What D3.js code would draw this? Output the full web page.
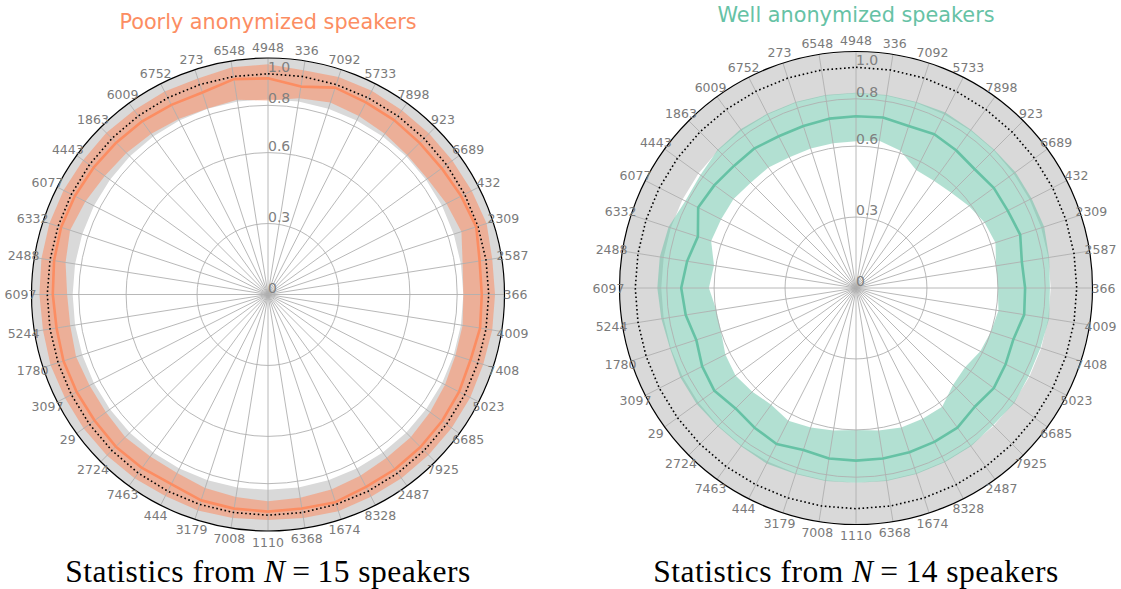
<!DOCTYPE html>
<html>
<head>
<meta charset="utf-8">
<script src="https://cdn.jsdelivr.net/npm/d3@7"></script>
<style>
  html, body { margin: 0; padding: 0; background: #ffffff; }
  svg { display: block; }
</style>
</head>
<body>
<svg id="chart" width="1121" height="589"></svg>
<script>
// Speaker IDs around the circle, clockwise from the top
const speakers = ["4948","336","7092","5733","7898","923","6689","432","2309","2587",
                  "366","4009","7408","5023","6685","7925","2487","8328","1674","6368",
                  "1110","7008","3179","444","7463","2724","29","3097","1780","5244",
                  "6097","2488","6332","6077","4443","1863","6009","6752","273","6548"];

// Poorly anonymized speakers: mean and spread per speaker
const poorMean = [0.971,0.935,0.980,0.968,0.965,0.960,0.962,0.975,0.989,0.959,
                  0.956,0.962,0.950,0.960,0.965,0.968,0.970,0.970,0.985,0.974,
                  0.977,0.975,0.973,0.950,0.960,0.965,0.960,0.962,0.964,0.958,
                  0.965,0.974,0.980,0.975,0.968,0.962,0.958,0.950,0.947,0.983];
const poorLow  = [0.830,0.860,0.880,0.870,0.860,0.850,0.850,0.870,0.890,0.850,
                  0.839,0.850,0.850,0.860,0.870,0.880,0.880,0.890,0.900,0.905,
                  0.912,0.900,0.890,0.870,0.870,0.880,0.870,0.870,0.880,0.870,
                  0.874,0.900,0.920,0.900,0.880,0.870,0.860,0.850,0.840,0.850];
const poorHigh = [1.060,1.040,1.050,1.050,1.045,1.045,1.045,1.050,1.058,1.040,
                  1.040,1.040,1.035,1.040,1.040,1.040,1.040,1.040,1.045,1.035,
                  1.030,1.035,1.040,1.035,1.040,1.045,1.045,1.045,1.050,1.045,
                  1.050,1.055,1.058,1.055,1.050,1.050,1.045,1.045,1.040,1.060];

// Well anonymized speakers: mean and spread per speaker
const wellMean = [0.726,0.730,0.720,0.730,0.720,0.710,0.720,0.720,0.730,0.710,
                  0.715,0.720,0.700,0.710,0.720,0.710,0.730,0.730,0.730,0.730,
                  0.730,0.730,0.720,0.740,0.730,0.720,0.740,0.730,0.710,0.729,
                  0.739,0.723,0.703,0.749,0.740,0.730,0.730,0.720,0.720,0.725];
const wellLow  = [0.620,0.630,0.610,0.560,0.560,0.570,0.590,0.610,0.620,0.600,
                  0.600,0.610,0.600,0.590,0.570,0.580,0.620,0.620,0.620,0.610,
                  0.600,0.610,0.620,0.630,0.610,0.620,0.630,0.620,0.600,0.598,
                  0.622,0.608,0.644,0.640,0.640,0.630,0.630,0.620,0.620,0.620];
const wellHigh = [0.839,0.840,0.840,0.850,0.840,0.840,0.850,0.850,0.855,0.840,
                  0.830,0.840,0.830,0.830,0.840,0.830,0.840,0.840,0.840,0.840,
                  0.835,0.840,0.840,0.850,0.840,0.840,0.850,0.850,0.840,0.850,
                  0.860,0.860,0.850,0.815,0.820,0.840,0.845,0.840,0.840,0.840];

// Reference level (dotted) and its grey spread, per panel
const poorRef = { level: 1.0, low: 0.839, high: 1.2 };
const wellRef = { level: 1.0, low: 0.835, high: 1.2 };

// Radial ticks and the radial mapping (ticks to fraction of the outer radius)
const radialTicks = [0, 0.3, 0.6, 0.8, 1.0];
const radialDomain = [0, 0.3, 0.6, 0.8, 1.0, 1.1];
const radialFrac   = [0, 0.3, 0.6, 0.8, 0.9333, 1.0];

const panels = [
  { title: "Poorly anonymized speakers", n: 15, color: "#fc8d62",
    mean: poorMean, low: poorLow, high: poorHigh, ref: poorRef,
    cx: 268, cy: 294.5, R: 236.5, titleY: 29, bandOpacity: 0.55 },
  { title: "Well anonymized speakers", n: 14, color: "#66c2a5",
    mean: wellMean, low: wellLow, high: wellHigh, ref: wellRef,
    cx: 856, cy: 288, R: 236.5, titleY: 21.5, bandOpacity: 0.5 }
];

const svg = d3.select("#chart");

const angle = d3.scaleBand().domain(speakers).range([0, 2 * Math.PI]).paddingInner(0).paddingOuter(0);

panels.forEach(p => {
  const r = d3.scaleLinear().domain(radialDomain).range(radialFrac.map(f => f * p.R)).clamp(true);
  const g = svg.append("g").attr("transform", `translate(${p.cx},${p.cy})`);

  const rows = speakers.map((s, i) => ({ s, mean: p.mean[i], low: p.low[i], high: p.high[i] }));

  // grey reference spread
  const refArea = d3.areaRadial()
    .angle(d => angle(d.s))
    .innerRadius(() => r(p.ref.low))
    .outerRadius(() => r(p.ref.high))
    .curve(d3.curveLinearClosed);
  g.append("path").datum(rows).attr("d", refArea).attr("fill", "#d9d9d9");

  // spread of the anonymized scores
  const band = d3.areaRadial()
    .angle(d => angle(d.s))
    .innerRadius(d => r(d.low))
    .outerRadius(d => r(d.high))
    .curve(d3.curveLinearClosed);
  g.append("path").datum(rows).attr("d", band)
    .attr("fill", p.color).attr("fill-opacity", p.bandOpacity);

  // grid: rings and spokes
  radialTicks.filter(t => t > 0 && t < 1).forEach(t => {
    g.append("circle").attr("r", r(t)).attr("fill", "none")
      .attr("stroke", "#b0b0b0").attr("stroke-width", 0.9);
  });
  speakers.forEach(s => {
    const a = angle(s);
    g.append("line")
      .attr("x1", 0).attr("y1", 0)
      .attr("x2", p.R * Math.sin(a)).attr("y2", -p.R * Math.cos(a))
      .attr("stroke", "#b0b0b0").attr("stroke-width", 0.9);
  });

  // dotted reference level
  const refLine = d3.lineRadial()
    .angle(d => angle(d.s))
    .radius(() => r(p.ref.level))
    .curve(d3.curveLinearClosed);
  g.append("path").datum(rows).attr("d", refLine)
    .attr("fill", "none").attr("stroke", "#000").attr("stroke-width", 1.6)
    .attr("stroke-dasharray", "1.6,2.6");

  // mean line
  const meanLine = d3.lineRadial()
    .angle(d => angle(d.s))
    .radius(d => r(d.mean))
    .curve(d3.curveLinearClosed);
  g.append("path").datum(rows).attr("d", meanLine)
    .attr("fill", "none").attr("stroke", p.color).attr("stroke-width", 2.6)
    .attr("stroke-linejoin", "round");

  // outer frame
  g.append("circle").attr("r", p.R).attr("fill", "none")
    .attr("stroke", "#000").attr("stroke-width", 1.2);

  // speaker labels
  speakers.forEach(s => {
    const a = angle(s);
    const rl = p.R + 11;
    g.append("text")
      .attr("x", rl * Math.sin(a)).attr("y", -rl * Math.cos(a))
      .attr("text-anchor", "middle").attr("dominant-baseline", "central")
      .attr("font-family", "DejaVu Sans").attr("font-size", 12.5)
      .attr("fill", "#7a7a7a").text(s);
  });

  // radial tick labels
  radialTicks.forEach(t => {
    g.append("text")
      .attr("x", 0).attr("y", -r(t) - 7)
      .attr("text-anchor", "start").attr("dominant-baseline", "central")
      .attr("font-family", "DejaVu Sans").attr("font-size", 14)
      .attr("fill", "#808080").text(t === 0 ? "0" : d3.format(".1f")(t));
  });

  // title
  svg.append("text")
    .attr("x", p.cx).attr("y", p.titleY)
    .attr("text-anchor", "middle")
    .attr("font-family", "DejaVu Sans").attr("font-size", 20.8)
    .attr("fill", p.color).text(p.title);

  // caption
  const cap = svg.append("text")
    .attr("x", p.cx).attr("y", 581.5)
    .attr("text-anchor", "middle")
    .attr("font-family", "Liberation Serif").attr("font-size", 31.5)
    .attr("letter-spacing", 0.5)
    .attr("fill", "#000");
  cap.append("tspan").text("Statistics from ");
  cap.append("tspan").attr("font-style", "italic").text("N");
  cap.append("tspan").text(`\u2009=\u2009${p.n} speakers`);
});
</script>
</body>
</html>
